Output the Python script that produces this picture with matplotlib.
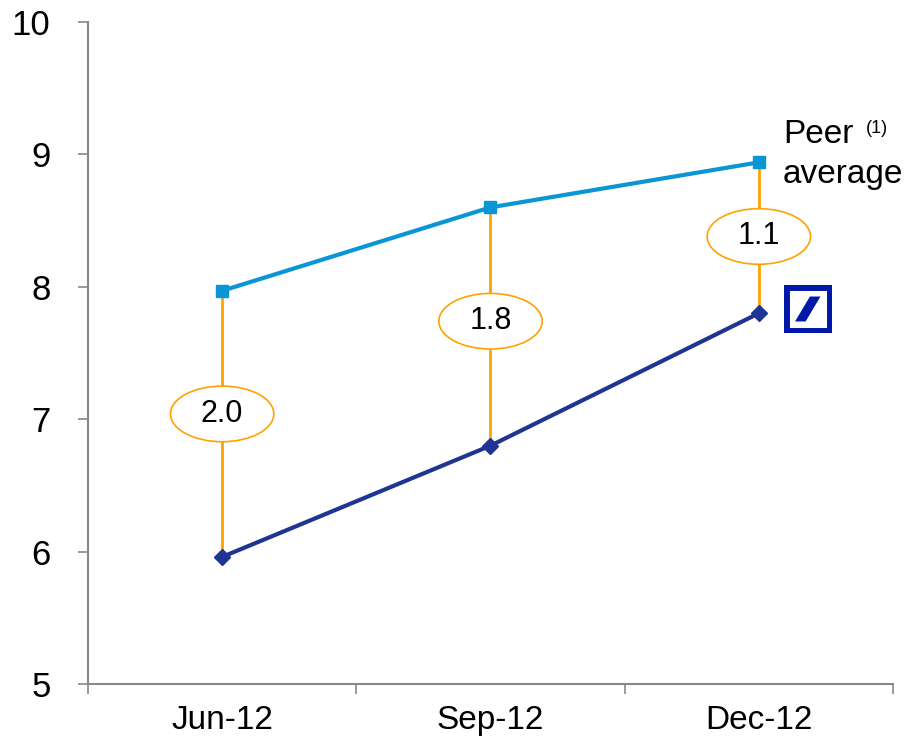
import matplotlib.pyplot as plt
from matplotlib.patches import Ellipse, Rectangle, Polygon

# =====================================================
# DATA
# =====================================================

periods = ["Jun-12", "Sep-12", "Dec-12"]
peer_avg = [7.97, 8.60, 8.94]
deutsche = [5.96, 6.80, 7.80]
gap_labels = ["2.0", "1.8", "1.1"]
gap_label_y = [7.04, 7.74, 8.38]

PEER_BLUE = "#0A96D4"
DB_BLUE = "#1F3593"
ORANGE = "#FFA200"
LOGO_BLUE = "#0018A8"

plt.rcParams["font.family"] = ["Liberation Sans", "DejaVu Sans"]

fig = plt.figure(figsize=(9.12, 7.41), dpi=100)
ax = fig.add_axes([88 / 912, 1 - 684 / 741, (893 - 88) / 912, (684 - 22) / 741])

xs = [i + 0.5 for i in range(len(periods))]

# orange connectors
for x, p, d in zip(xs, peer_avg, deutsche):
    ax.plot([x, x], [d, p], color=ORANGE, lw=2, zorder=1)

# gap ellipses
for x, y, lab in zip(xs, gap_label_y, gap_labels):
    ax.add_patch(Ellipse((x, y), 0.385, 0.42, facecolor="white",
                         edgecolor=ORANGE, lw=1.2, zorder=2))
    ax.text(x, y, lab, ha="center", va="center", fontsize=22, zorder=3)

# series
ax.plot(xs, peer_avg, color=PEER_BLUE, lw=3, marker="s", markersize=9, zorder=4)
ax.plot(xs, deutsche, color=DB_BLUE, lw=3, marker="D", markersize=8, zorder=4)

# peer label
ax.text(2.59, 9.086, "Peer", fontsize=24, va="baseline", ha="left")
ax.text(2.90, 9.16, "(1)", fontsize=13, va="baseline", ha="left")
ax.text(2.59, 8.784, "average", fontsize=24, va="baseline", ha="left")

ax.set_xlim(0, 3)
ax.set_ylim(5, 10)
ax.set_xticks([0, 1, 2, 3])
ax.set_xticklabels([])
ax.set_xticks(xs, minor=True)
ax.set_xticklabels(periods, minor=True, fontsize=24)
ax.tick_params(axis="x", which="minor", length=0, pad=15)
ax.tick_params(axis="x", which="major", length=7, color="#888888", width=1.2)
ax.set_yticks(range(5, 11))
ax.tick_params(axis="y", length=7, color="#888888", width=1.2, labelsize=25, pad=20)

for s in ["top", "right"]:
    ax.spines[s].set_visible(False)
for s in ["left", "bottom"]:
    ax.spines[s].set_color("#888888")
    ax.spines[s].set_linewidth(1.5)

# logo
lax = fig.add_axes([784 / 912, 1 - 333 / 741, 48 / 912, 48 / 741])
lax.set_xlim(0, 1)
lax.set_ylim(0, 1)
lax.axis("off")
lax.add_patch(Rectangle((0.05, 0.05), 0.9, 0.9, facecolor="white",
                        edgecolor=LOGO_BLUE, lw=5))
lax.add_patch(Polygon([(0.23, 0.24), (0.45, 0.24), (0.76, 0.76), (0.54, 0.76)],
                      closed=True, facecolor=LOGO_BLUE, edgecolor="none"))

fig.savefig("out.png", dpi=100)
